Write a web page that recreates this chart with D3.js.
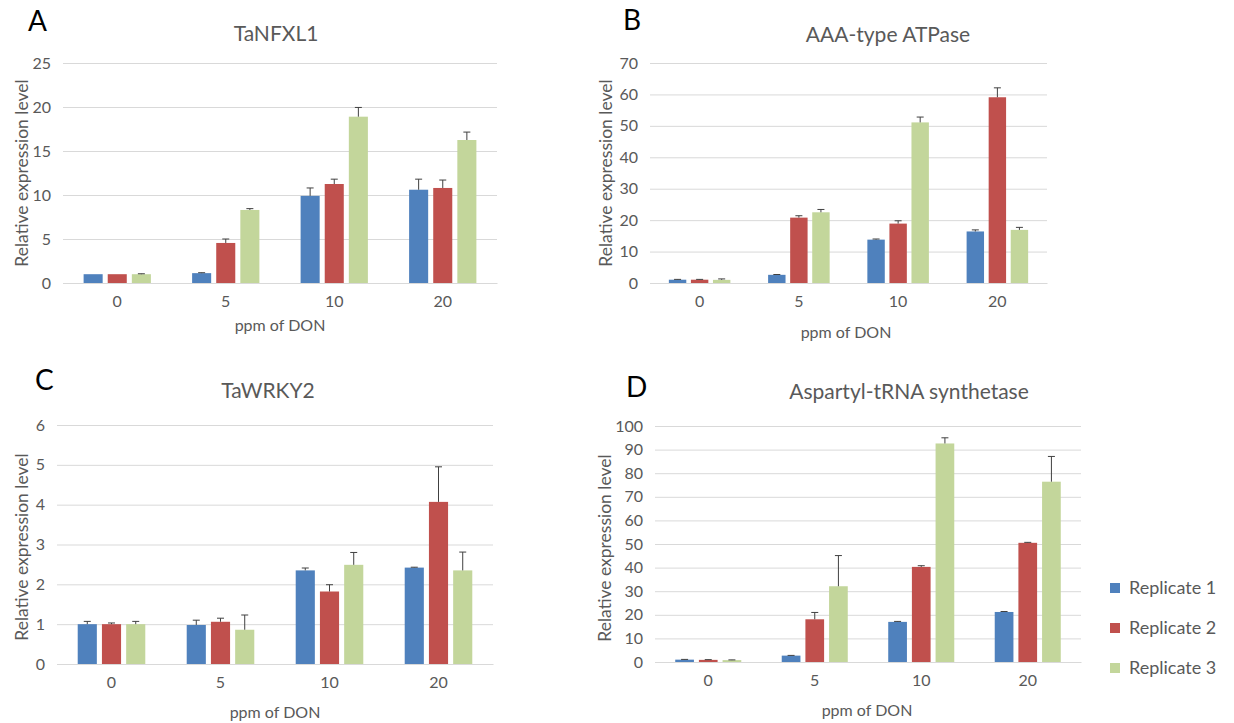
<!DOCTYPE html>
<html>
<head>
<meta charset="utf-8">
<script src="https://cdn.jsdelivr.net/npm/d3@7"></script>
<style>
  body { margin: 0; background: #fff; }
  svg text { font-family: Lato, "Open Sans", sans-serif; }
</style>
</head>
<body>
<div id="chart"></div>
<script>
// data
const categories = ["0", "5", "10", "20"];
const replicates = ["Replicate 1", "Replicate 2", "Replicate 3"];
const colors = ["#4f81bd", "#c0504d", "#c3d69b"];

// A - TaNFXL1
const nfxlValues = [
    [1.0, 1.12, 9.9, 10.6],
    [1.0, 4.55, 11.25, 10.8],
    [1.0, 8.3, 18.9, 16.25]
];
const nfxlErrors = [
    [0.0, 0.05, 0.9, 1.2],
    [0.0, 0.45, 0.55, 0.9],
    [0.05, 0.15, 1.05, 0.9]
];

// B - AAA-type ATPase
const atpaseValues = [
    [1.05, 2.6, 13.8, 16.4],
    [1.05, 20.8, 18.9, 59.1],
    [1.0, 22.5, 51.1, 16.9]
];
const atpaseErrors = [
    [0.1, 0.1, 0.2, 0.5],
    [0.1, 0.6, 0.9, 3.0],
    [0.3, 0.9, 1.7, 0.8]
];

// C - TaWRKY2
const wrkyValues = [
    [1.0, 0.98, 2.35, 2.42],
    [1.0, 1.06, 1.82, 4.07],
    [1.0, 0.86, 2.49, 2.35]
];
const wrkyErrors = [
    [0.07, 0.12, 0.06, 0.01],
    [0.03, 0.09, 0.17, 0.88],
    [0.07, 0.37, 0.31, 0.46]
];

// D - Aspartyl-tRNA synthetase
const trnaValues = [
    [1.0, 2.7, 17.0, 21.2],
    [0.9, 18.1, 40.3, 50.5],
    [0.8, 32.1, 92.6, 76.4]
];
const trnaErrors = [
    [0.1, 0.1, 0.2, 0.2],
    [0.1, 2.9, 0.5, 0.2],
    [0.1, 13.0, 2.4, 10.7]
];

const panels = [
    {letter: "A", title: "TaNFXL1", values: nfxlValues, errors: nfxlErrors, max: 25, step: 5,
     left: 63, right: 497, top: 63, bottom: 283, titleX: 276, titleY: 41, letterX: 28, letterY: 31,
     xlabX: 280, xlabY: 331, ylabX: 22, ylabY: 173},
    {letter: "B", title: "AAA-type ATPase", values: atpaseValues, errors: atpaseErrors, max: 70, step: 10,
     left: 650, right: 1047, top: 63, bottom: 283, titleX: 888, titleY: 42, letterX: 623, letterY: 30,
     xlabX: 846, xlabY: 338, ylabX: 606, ylabY: 173},
    {letter: "C", title: "TaWRKY2", values: wrkyValues, errors: wrkyErrors, max: 6, step: 1,
     left: 57, right: 493, top: 425, bottom: 664, titleX: 268, titleY: 398, letterX: 35, letterY: 390,
     xlabX: 275, xlabY: 718, ylabX: 22, ylabY: 547},
    {letter: "D", title: "Aspartyl-tRNA synthetase", values: trnaValues, errors: trnaErrors, max: 100, step: 10,
     left: 655, right: 1081, top: 426, bottom: 662, titleX: 909, titleY: 399, letterX: 626, letterY: 397,
     xlabX: 867, xlabY: 716, ylabX: 605, ylabY: 548}
];

const textColor = "#595959";
const gridColor = "#d9d9d9";

const svg = d3.select("#chart")
    .append("svg")
    .attr("width", 1234)
    .attr("height", 723);

panels.forEach(p => {
    const g = svg.append("g");

    const y = d3.scaleLinear()
        .domain([0, p.max])
        .range([p.bottom, p.top]);

    const x0 = d3.scaleBand()
        .domain(categories)
        .range([p.left, p.right])
        .padding(0);

    const groupWidth = x0.bandwidth() * 0.62;
    const x1 = d3.scaleBand()
        .domain(d3.range(replicates.length))
        .range([0, groupWidth])
        .paddingInner(0.21);

    // gridlines + tick labels
    const ticks = d3.range(0, p.max + p.step / 2, p.step);
    const yAxis = d3.axisLeft(y)
        .tickValues(ticks)
        .tickSize(-(p.right - p.left))
        .tickPadding(12)
        .tickFormat(d3.format("d"));

    g.append("g")
        .attr("transform", `translate(${p.left},0)`)
        .call(yAxis)
        .call(a => a.select(".domain").remove())
        .call(a => a.selectAll("line").attr("stroke", gridColor).attr("stroke-width", 1))
        .call(a => a.selectAll("text")
            .attr("fill", textColor)
            .style("font-size", "16px"));

    // x axis tick labels
    const xAxis = d3.axisBottom(x0).tickSize(0).tickPadding(13);
    g.append("g")
        .attr("transform", `translate(0,${p.bottom})`)
        .call(xAxis)
        .call(a => a.select(".domain").attr("stroke", gridColor))
        .call(a => a.selectAll("text")
            .attr("fill", textColor)
            .style("font-size", "16px"));

    // bars
    const rows = [];
    p.values.forEach((series, ri) => {
        series.forEach((v, ci) => {
            rows.push({cat: categories[ci], rep: ri, value: v, err: p.errors[ri][ci]});
        });
    });

    const offset = (x0.bandwidth() - groupWidth) / 2;

    g.selectAll("rect.bar")
        .data(rows)
        .enter()
        .append("rect")
        .attr("class", "bar")
        .attr("x", d => x0(d.cat) + offset + x1(d.rep))
        .attr("y", d => y(d.value))
        .attr("width", x1.bandwidth())
        .attr("height", d => y(0) - y(d.value))
        .attr("fill", d => colors[d.rep]);

    // error bars (upper only)
    const capHalf = 3.5;
    const errG = g.selectAll("g.err")
        .data(rows.filter(d => d.err > 0))
        .enter()
        .append("g")
        .attr("class", "err")
        .attr("stroke", "#404040")
        .attr("stroke-width", 1);

    errG.append("line")
        .attr("x1", d => x0(d.cat) + offset + x1(d.rep) + x1.bandwidth() / 2)
        .attr("x2", d => x0(d.cat) + offset + x1(d.rep) + x1.bandwidth() / 2)
        .attr("y1", d => y(d.value))
        .attr("y2", d => y(d.value + d.err));

    errG.append("line")
        .attr("x1", d => x0(d.cat) + offset + x1(d.rep) + x1.bandwidth() / 2 - capHalf)
        .attr("x2", d => x0(d.cat) + offset + x1(d.rep) + x1.bandwidth() / 2 + capHalf)
        .attr("y1", d => y(d.value + d.err))
        .attr("y2", d => y(d.value + d.err));

    // titles and labels
    g.append("text")
        .attr("x", p.titleX)
        .attr("y", p.titleY)
        .attr("text-anchor", "middle")
        .attr("fill", textColor)
        .style("font-size", "21px")
        .text(p.title);

    g.append("text")
        .attr("x", p.letterX)
        .attr("y", p.letterY)
        .attr("fill", "#000")
        .style("font-size", "28px")
        .text(p.letter);

    g.append("text")
        .attr("x", p.xlabX)
        .attr("y", p.xlabY)
        .attr("text-anchor", "middle")
        .attr("fill", textColor)
        .style("font-size", "16px")
        .text("ppm of DON");

    g.append("text")
        .attr("transform", `translate(${p.ylabX},${p.ylabY}) rotate(-90)`)
        .attr("text-anchor", "middle")
        .attr("dy", "0.35em")
        .attr("fill", textColor)
        .style("font-size", "17.5px")
        .text("Relative expression level");
});

// legend
const legend = svg.append("g")
    .attr("transform", "translate(1110,588)");

const items = legend.selectAll("g")
    .data(replicates)
    .enter()
    .append("g")
    .attr("transform", (d, i) => `translate(0,${i * 40})`);

items.append("rect")
    .attr("x", 0)
    .attr("y", -5)
    .attr("width", 10)
    .attr("height", 10)
    .attr("fill", (d, i) => colors[i]);

items.append("text")
    .attr("x", 19)
    .attr("y", 0)
    .attr("dy", "0.35em")
    .attr("fill", textColor)
    .style("font-size", "18px")
    .text(d => d);
</script>
</body>
</html>
